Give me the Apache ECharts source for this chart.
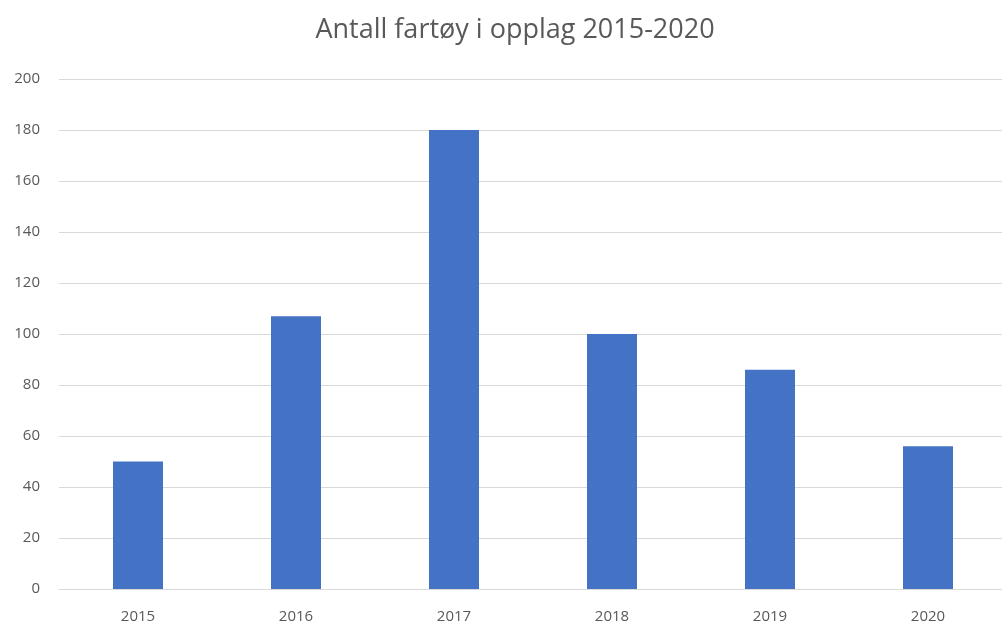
<!DOCTYPE html>
<html><head><meta charset="utf-8">
<script src="https://cdn.jsdelivr.net/npm/echarts@6/dist/echarts.min.js"></script>
<style>html,body{margin:0;padding:0;background:#fff;overflow:hidden}#c{width:1012px;height:624px}</style>
</head><body><div id="c"></div>
<script>
const categories = ['2015','2016','2017','2018','2019','2020'];
const values = [50, 107, 180, 100, 86, 56];
const chart = echarts.init(document.getElementById('c'), null, {renderer:'canvas'});
chart.setOption({
  animation:false,
  title:{text:'Antall fartøy i opplag 2015-2020', left:510, top:12, textAlign:'center',
    textStyle:{fontFamily:'Open Sans', fontSize:27, fontWeight:'normal', color:'#595959'}},
  grid:{left:59, top:79, width:948, bottom:35, containLabel:false},
  xAxis:{type:'category', data:categories,
    axisLine:{lineStyle:{color:'#d9d9d9', width:1}}, axisTick:{show:false},
    axisLabel:{color:'#595959', fontSize:15, fontFamily:'Open Sans', margin:20}},
  yAxis:{type:'value', min:0, max:200, interval:20,
    axisLine:{show:false}, axisTick:{show:false},
    splitLine:{lineStyle:{color:'#d9d9d9', width:1}},
    axisLabel:{color:'#595959', fontSize:15, fontFamily:'Open Sans', margin:19}},
  series:[{type:'bar', data:values, barWidth:50, itemStyle:{color:'#4472C4'}}]
});
</script></body></html>
